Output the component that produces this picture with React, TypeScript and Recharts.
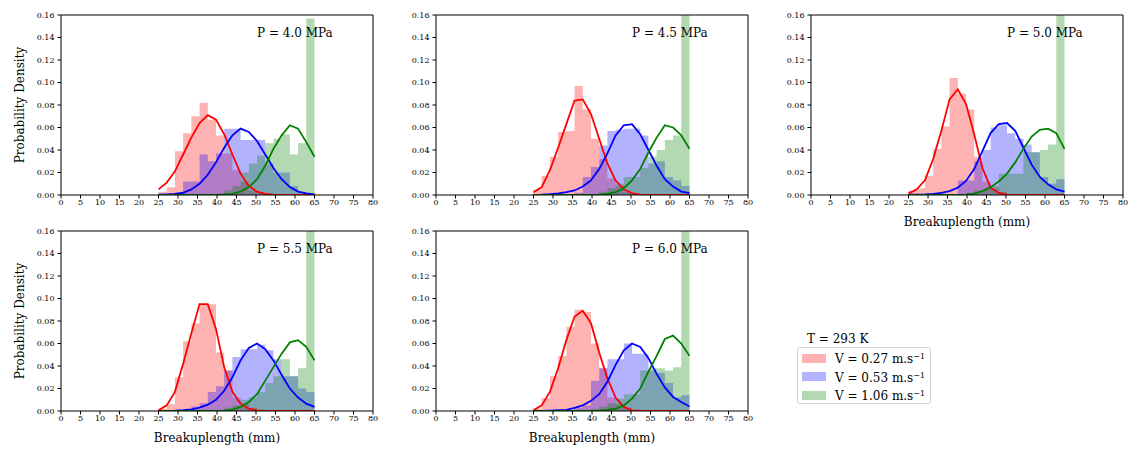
import React from "react";
import {
  ComposedChart,
  Area,
  Line,
  XAxis,
  YAxis,
  ReferenceLine,
} from "recharts";

// bin edges shared by all histograms (19 bins between 25 and 65 mm)
const binEdges = [
  25, 27.11, 29.21, 31.32, 33.42, 35.53, 37.63, 39.74, 41.84, 43.95, 46.05,
  48.16, 50.26, 52.37, 54.47, 56.58, 58.68, 60.79, 62.89, 65,
];

const xTicks = [0, 5, 10, 15, 20, 25, 30, 35, 40, 45, 50, 55, 60, 65, 70, 75, 80];
const yTicks = [0, 0.02, 0.04, 0.06, 0.08, 0.1, 0.12, 0.14, 0.16];

const seriesNames = ["V = 0.27 m.s", "V = 0.53 m.s", "V = 1.06 m.s"];
const seriesColors = ["#ff0000", "#0000ff", "#008000"];

// P = 4.0 MPa
const red40 = [0.003, 0.007, 0.039, 0.055, 0.07, 0.082, 0.067, 0.053, 0.037, 0.022, 0.012, 0.004, 0.002, 0.001, 0.001, 0, 0, 0, 0, 0];
const blue40 = [0, 0.001, 0.002, 0.012, 0.012, 0.036, 0.03, 0.037, 0.059, 0.059, 0.049, 0.049, 0.049, 0.028, 0.02, 0.02, 0.008, 0.003, 0.001, 0];
const green40 = [0, 0, 0, 0, 0, 0, 0, 0, 0.004, 0.008, 0.02, 0.028, 0.035, 0.046, 0.05, 0.054, 0.036, 0.046, 0.157, 0];
const redFit40 = [0.005, 0.011, 0.021, 0.036, 0.051, 0.064, 0.071, 0.067, 0.054, 0.036, 0.019, 0.008, 0.003, 0.001, 0.0003, 0, 0, 0, 0, 0];
const blueFit40 = [0.0003, 0.0006, 0.001, 0.002, 0.005, 0.01, 0.018, 0.029, 0.042, 0.053, 0.059, 0.056, 0.048, 0.036, 0.024, 0.014, 0.007, 0.003, 0.0015, 0.0006];
const greenFit40 = [0, 0, 0, 0, 0, 0, 0, 0.0002, 0.0005, 0.001, 0.003, 0.007, 0.014, 0.026, 0.041, 0.053, 0.062, 0.059, 0.047, 0.034];

// P = 4.5 MPa
const red45 = [0.005, 0.017, 0.034, 0.056, 0.057, 0.097, 0.076, 0.05, 0.032, 0.015, 0.008, 0.003, 0.001, 0, 0, 0, 0, 0, 0, 0];
const blue45 = [0, 0, 0, 0, 0.001, 0.002, 0.016, 0.025, 0.044, 0.057, 0.058, 0.059, 0.059, 0.053, 0.028, 0.03, 0.016, 0.013, 0.008, 0];
const green45 = [0, 0, 0, 0, 0, 0, 0, 0, 0.003, 0.006, 0.01, 0.016, 0.016, 0.024, 0.034, 0.04, 0.049, 0.053, 0.175, 0];
const redFit45 = [0.0025, 0.007, 0.022, 0.042, 0.063, 0.084, 0.085, 0.072, 0.05, 0.028, 0.013, 0.005, 0.0016, 0.0004, 0, 0, 0, 0, 0, 0];
const blueFit45 = [0.0002, 0.0004, 0.0008, 0.0015, 0.0025, 0.004, 0.0075, 0.013, 0.023, 0.037, 0.053, 0.062, 0.063, 0.054, 0.04, 0.026, 0.014, 0.0075, 0.003, 0.0016];
const greenFit45 = [0, 0, 0, 0, 0, 0, 0, 0, 0.0003, 0.001, 0.0025, 0.006, 0.013, 0.023, 0.038, 0.051, 0.062, 0.06, 0.053, 0.041];

// P = 5.0 MPa
const red50 = [0.004, 0.006, 0.017, 0.041, 0.061, 0.104, 0.09, 0.076, 0.034, 0.012, 0.006, 0.003, 0.001, 0, 0, 0, 0, 0, 0, 0];
const blue50 = [0, 0, 0, 0, 0, 0.001, 0.013, 0.013, 0.03, 0.04, 0.06, 0.062, 0.055, 0.05, 0.045, 0.038, 0.016, 0.01, 0.014, 0];
const green50 = [0, 0, 0, 0, 0, 0, 0, 0.002, 0.004, 0.005, 0.008, 0.019, 0.019, 0.019, 0.038, 0.038, 0.04, 0.045, 0.17, 0];
const redFit50 = [0.0012, 0.005, 0.013, 0.032, 0.057, 0.085, 0.094, 0.081, 0.054, 0.024, 0.0065, 0.0018, 0.0003, 0, 0, 0, 0, 0, 0, 0];
const blueFit50 = [0.0003, 0.0003, 0.0005, 0.001, 0.0018, 0.0035, 0.0065, 0.0125, 0.023, 0.039, 0.055, 0.063, 0.064, 0.057, 0.042, 0.027, 0.016, 0.0095, 0.005, 0.003];
const greenFit50 = [0, 0, 0, 0, 0, 0, 0, 0.0003, 0.0012, 0.0035, 0.007, 0.012, 0.019, 0.029, 0.041, 0.052, 0.058, 0.059, 0.055, 0.041];

// P = 5.5 MPa
const red55 = [0.002, 0.006, 0.03, 0.062, 0.078, 0.095, 0.095, 0.052, 0.036, 0.012, 0.0065, 0.003, 0.001, 0, 0, 0, 0, 0, 0, 0];
const blue55 = [0, 0, 0, 0, 0.004, 0.007, 0.017, 0.022, 0.036, 0.048, 0.055, 0.055, 0.059, 0.054, 0.046, 0.031, 0.031, 0.02, 0.017, 0];
const green55 = [0, 0, 0, 0, 0, 0, 0, 0.001, 0.003, 0.005, 0.01, 0.012, 0.017, 0.025, 0.031, 0.046, 0.031, 0.038, 0.17, 0];
const redFit55 = [0.0006, 0.005, 0.017, 0.042, 0.069, 0.095, 0.095, 0.073, 0.039, 0.017, 0.0065, 0.002, 0.0006, 0, 0, 0, 0, 0, 0, 0];
const blueFit55 = [0, 0.0002, 0.0004, 0.0008, 0.0015, 0.003, 0.0056, 0.01, 0.018, 0.03, 0.045, 0.056, 0.06, 0.055, 0.045, 0.032, 0.02, 0.012, 0.0065, 0.0036];
const greenFit55 = [0, 0, 0, 0, 0, 0, 0, 0, 0.0003, 0.0012, 0.0036, 0.008, 0.015, 0.027, 0.039, 0.051, 0.061, 0.063, 0.057, 0.045];

// P = 6.0 MPa
const red60 = [0.002, 0.0115, 0.031, 0.049, 0.075, 0.09, 0.088, 0.06, 0.038, 0.012, 0.006, 0.003, 0.001, 0, 0, 0, 0, 0, 0, 0];
const blue60 = [0, 0, 0, 0, 0.001, 0.003, 0.005, 0.027, 0.038, 0.046, 0.046, 0.06, 0.051, 0.051, 0.036, 0.034, 0.025, 0.012, 0.014, 0];
const green60 = [0, 0, 0, 0, 0, 0, 0, 0.002, 0.004, 0.007, 0.011, 0.015, 0.015, 0.036, 0.038, 0.038, 0.036, 0.039, 0.17, 0];
const redFit60 = [0.0006, 0.005, 0.017, 0.038, 0.063, 0.084, 0.089, 0.078, 0.052, 0.029, 0.012, 0.0036, 0.0006, 0, 0, 0, 0, 0, 0, 0];
const blueFit60 = [0, 0.0002, 0.0004, 0.0007, 0.001, 0.0027, 0.005, 0.009, 0.015, 0.026, 0.041, 0.054, 0.06, 0.057, 0.047, 0.033, 0.021, 0.0125, 0.008, 0.004];
const greenFit60 = [0, 0, 0, 0, 0, 0, 0, 0, 0.0003, 0.001, 0.002, 0.005, 0.011, 0.02, 0.035, 0.049, 0.064, 0.067, 0.06, 0.049];

const FONT = "'DejaVu Serif', serif";
const PLOT_W = 312;
const PLOT_H = 180;
const Y_AXIS_W = 50;
const X_AXIS_H = 22;
const TOP_PAD = 6;
const RIGHT_PAD = 8;

const makeRows = (hist: number[][], fits: number[][]) =>
  binEdges.map((x, i) => ({
    x,
    r: hist[0][i],
    b: hist[1][i],
    g: hist[2][i],
    rf: fits[0][i],
    bf: fits[1][i],
    gf: fits[2][i],
  }));

const panels = [
  { title: "P = 4.0 MPa", left: 61, top: 15, yLabel: true, xLabel: false, rows: makeRows([red40, blue40, green40], [redFit40, blueFit40, greenFit40]) },
  { title: "P = 4.5 MPa", left: 436, top: 15, yLabel: false, xLabel: false, rows: makeRows([red45, blue45, green45], [redFit45, blueFit45, greenFit45]) },
  { title: "P = 5.0 MPa", left: 811, top: 15, yLabel: false, xLabel: true, rows: makeRows([red50, blue50, green50], [redFit50, blueFit50, greenFit50]) },
  { title: "P = 5.5 MPa", left: 61, top: 231, yLabel: true, xLabel: true, rows: makeRows([red55, blue55, green55], [redFit55, blueFit55, greenFit55]) },
  { title: "P = 6.0 MPa", left: 436, top: 231, yLabel: false, xLabel: true, rows: makeRows([red60, blue60, green60], [redFit60, blueFit60, greenFit60]) },
];

const tickStyle = { fontSize: 8, fill: "#000", fontFamily: FONT };

type PanelProps = (typeof panels)[number];

const Panel = ({ title, left, top, yLabel, xLabel, rows }: PanelProps) => (
  <>
    <div style={{ position: "absolute", left: left - Y_AXIS_W, top: top - TOP_PAD }}>
      <ComposedChart
        width={Y_AXIS_W + PLOT_W + RIGHT_PAD}
        height={TOP_PAD + PLOT_H + X_AXIS_H}
        data={rows}
        margin={{ top: TOP_PAD, right: RIGHT_PAD, left: 0, bottom: 0 }}
      >
        <XAxis
          dataKey="x"
          type="number"
          domain={[0, 80]}
          ticks={xTicks}
          interval={0}
          height={X_AXIS_H}
          tick={tickStyle}
          tickSize={3.5}
          tickMargin={1}
          stroke="#000"
        />
        <YAxis
          type="number"
          domain={[0, 0.16]}
          ticks={yTicks}
          interval={0}
          allowDataOverflow
          width={Y_AXIS_W}
          tick={tickStyle}
          tickSize={3.5}
          tickMargin={3}
          stroke="#000"
          tickFormatter={(v) => Number(v).toFixed(2)}
        />
        <ReferenceLine y={0.16} stroke="#000" strokeWidth={1} />
        <ReferenceLine x={80} stroke="#000" strokeWidth={1} />

        <Area type="stepAfter" dataKey="r" stroke="none" fill={seriesColors[0]} fillOpacity={0.3} isAnimationActive={false} activeDot={false} />
        <Area type="stepAfter" dataKey="b" stroke="none" fill={seriesColors[1]} fillOpacity={0.3} isAnimationActive={false} activeDot={false} />
        <Area type="stepAfter" dataKey="g" stroke="none" fill={seriesColors[2]} fillOpacity={0.3} isAnimationActive={false} activeDot={false} />

        <Line type="linear" dataKey="rf" stroke={seriesColors[0]} strokeWidth={1.8} dot={false} activeDot={false} isAnimationActive={false} />
        <Line type="linear" dataKey="bf" stroke={seriesColors[1]} strokeWidth={1.8} dot={false} activeDot={false} isAnimationActive={false} />
        <Line type="linear" dataKey="gf" stroke={seriesColors[2]} strokeWidth={1.8} dot={false} activeDot={false} isAnimationActive={false} />
      </ComposedChart>
    </div>

    <div
      style={{
        position: "absolute",
        left: left + 196,
        top: top + 12,
        fontSize: 12,
        lineHeight: "12px",
        fontFamily: FONT,
        whiteSpace: "nowrap",
      }}
    >
      {title}
    </div>

    {yLabel && (
      <div
        style={{
          position: "absolute",
          left: 20,
          top: top + PLOT_H / 2,
          transform: "translate(-50%, -50%) rotate(-90deg)",
          fontSize: 12,
          lineHeight: "12px",
          fontFamily: FONT,
          whiteSpace: "nowrap",
        }}
      >
        Probability Density
      </div>
    )}

    {xLabel && (
      <div
        style={{
          position: "absolute",
          left: left + PLOT_W / 2,
          top: top + PLOT_H + 27,
          transform: "translate(-50%, -50%)",
          fontSize: 12,
          lineHeight: "12px",
          fontFamily: FONT,
          whiteSpace: "nowrap",
        }}
      >
        Breakuplength (mm)
      </div>
    )}
  </>
);

const Legend = () => (
  <>
    <div
      style={{
        position: "absolute",
        left: 807,
        top: 333,
        fontSize: 12,
        lineHeight: "12px",
        fontFamily: FONT,
        whiteSpace: "nowrap",
      }}
    >
      T = 293 K
    </div>
    <div
      style={{
        position: "absolute",
        left: 797,
        top: 347,
        width: 132,
        height: 55,
        border: "1px solid #d3d3d3",
        borderRadius: 3,
        background: "#fff",
      }}
    >
      {seriesNames.map((name, i) => (
        <div
          key={name}
          style={{
            position: "absolute",
            left: 4,
            top: 4 + i * 18.5,
            height: 12,
            display: "flex",
            alignItems: "center",
            whiteSpace: "nowrap",
          }}
        >
          <span
            style={{
              display: "inline-block",
              width: 24,
              height: 9,
              background: seriesColors[i],
              opacity: 0.3,
            }}
          />
          <span style={{ marginLeft: 9, fontSize: 12, lineHeight: "12px", fontFamily: FONT }}>
            {name}
            <sup style={{ fontSize: 8, verticalAlign: 4 }}>−1</sup>
          </span>
        </div>
      ))}
    </div>
  </>
);

export default function App() {
  return (
    <div style={{ position: "absolute", left: 0, top: 0, width: 1137, height: 451, background: "#fff" }}>
      {panels.map((p) => (
        <Panel key={p.title} {...p} />
      ))}
      <Legend />
    </div>
  );
}
